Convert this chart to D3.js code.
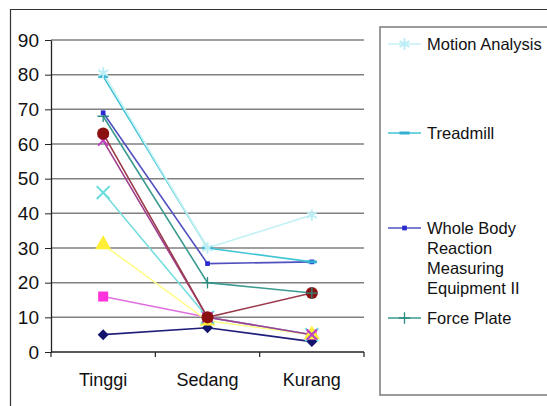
<!DOCTYPE html>
<html>
<head>
<meta charset="utf-8">
<script src="https://cdn.jsdelivr.net/npm/d3@7"></script>
<style>
body { margin: 0; background: #fff; }
svg { display: block; font-family: "Liberation Sans", Arial, sans-serif; }
</style>
</head>
<body>
<svg id="chart" width="547" height="406"></svg>
<script>
// categories and tick labels
var categories = ["Tinggi", "Sedang", "Kurang"];
var yTicks = [0, 10, 20, 30, 40, 50, 60, 70, 80, 90];

// series values
var navyDiamond   = [5, 7, 3];
var pinkSquare    = [16, 10, 5];
var yellowTri     = [31, 9, 5];
var cyanCross     = [46, 10, 5];
var purpleStar    = [61, 10, 5];
var maroonCircle  = [63, 10, 17];
var forcePlate    = [68, 20, 17];
var wholeBody     = [69, 25.5, 26];
var treadmill     = [79.5, 30, 26];
var motion        = [80.5, 30, 39.5];

// legend entries visible in the picture
var legendNames = ["Motion Analysis", "Treadmill", "Whole Body Reaction Measuring Equipment II", "Force Plate"];

var series = [
  { v: navyDiamond,  line: "#1f1f7a", mark: "#14146e", sym: "diamond", size: 60, sw: 2 },
  { v: pinkSquare,   line: "#e070e0", mark: "#ff33dd", sym: "square", size: 100, sw: 2 },
  { v: yellowTri,    line: "#ffff88", mark: "#ffee33", sym: "triangle", size: 110, sw: 2 },
  { v: cyanCross,    line: "#77dddd", mark: "#66dddd", sym: "times", size: 110, sw: 2 },
  { v: purpleStar,   line: "#a04090", mark: "#c040c0", sym: "times", size: 70, sw: 2 },
  { v: maroonCircle, line: "#9a3a4a", mark: "#8b1010", sym: "circle", size: 115, sw: 2 },
  { v: forcePlate,   line: "#3a9a8f", mark: "#2a8a80", sym: "plus", size: 45, sw: 1.3 },
  { v: wholeBody,    line: "#5050c0", mark: "#2a2ad0", sym: "square", size: 22, sw: 2 },
  { v: treadmill,    line: "#40c4d4", mark: "#30b0d0", sym: "dash", size: 0, sw: 3 },
  { v: motion,       line: "#c4f2f4", mark: "#bdeef6", sym: "asterisk", size: 90, sw: 2 }
];

var svg = d3.select("#chart");

// outer chart frame (runs off right and bottom)
svg.append("path").attr("d", "M10.5,420V9.5H560")
  .attr("fill", "none").attr("stroke", "#333").attr("stroke-width", 1.2);

var plotL = 51, plotR = 364, plotT = 40, plotB = 352;
var x = d3.scalePoint().domain(categories).range([plotL, plotR]).padding(0.5);
var y = d3.scaleLinear().domain([0, 90]).range([plotB, plotT]);

// gridlines
svg.append("g").selectAll("line").data(yTicks.slice(1)).join("line")
  .attr("x1", plotL).attr("x2", plotR)
  .attr("y1", function(d){ return y(d); }).attr("y2", function(d){ return y(d); })
  .attr("stroke", "#808080").attr("stroke-width", 1.5);

// y axis
var yAxis = svg.append("g").attr("transform", "translate(" + plotL + ",0)")
  .call(d3.axisLeft(y).tickValues(yTicks).tickSize(6).tickPadding(6).tickSizeOuter(0));
yAxis.select(".domain").attr("stroke", "#222").attr("stroke-width", 1.3);
yAxis.selectAll(".tick line").attr("stroke", "#222");
yAxis.selectAll("text").attr("font-size", 19).attr("fill", "#111")
  .attr("font-family", "Liberation Sans, Arial, sans-serif");

// x axis with ticks between categories
var edges = [plotL, plotL + (plotR - plotL) / 3, plotL + 2 * (plotR - plotL) / 3, plotR];
svg.append("line").attr("x1", plotL).attr("x2", plotR).attr("y1", plotB).attr("y2", plotB)
  .attr("stroke", "#222").attr("stroke-width", 1.3);
svg.append("g").selectAll("line").data(edges).join("line")
  .attr("x1", function(d){ return d; }).attr("x2", function(d){ return d; })
  .attr("y1", plotB).attr("y2", plotB + 5).attr("stroke", "#222").attr("stroke-width", 1.2);
svg.append("g").selectAll("text").data(categories).join("text")
  .attr("x", function(d){ return x(d); }).attr("y", 386)
  .attr("text-anchor", "middle").attr("font-size", 18).attr("fill", "#111")
  .text(function(d){ return d; });

var symTypes = {
  diamond: d3.symbolSquare, square: d3.symbolSquare, triangle: d3.symbolTriangle,
  circle: d3.symbolCircle, times: d3.symbolTimes, plus: d3.symbolPlus, asterisk: d3.symbolAsterisk
};
var strokeSyms = { times: 1, plus: 1, asterisk: 1, dash: 1 };

function drawMarker(g, s, cx, cy) {
  if (s.sym === "dash") {
    g.append("path").attr("d", "M" + (cx - 5) + "," + cy + "H" + (cx + 5))
      .attr("stroke", s.mark).attr("stroke-width", s.sw);
    return;
  }
  var p = g.append("path")
    .attr("d", d3.symbol().type(symTypes[s.sym]).size(s.size)())
    .attr("transform", "translate(" + cx + "," + cy + ")" + (s.sym === "diamond" ? " rotate(45)" : ""));
  if (strokeSyms[s.sym]) p.attr("fill", "none").attr("stroke", s.mark).attr("stroke-width", s.sw);
  else p.attr("fill", s.mark);
}

var line = d3.line().x(function(d, i){ return x(categories[i]); }).y(function(d){ return y(d); });

// lines then markers, last series on top
series.forEach(function(s) {
  svg.append("path").datum(s.v).attr("d", line)
    .attr("fill", "none").attr("stroke", s.line).attr("stroke-width", 1.6);
});
series.forEach(function(s) {
  var g = svg.append("g");
  s.v.forEach(function(d, i) { drawMarker(g, s, x(categories[i]), y(d)); });
});

// legend
svg.append("rect").attr("x", 380).attr("y", 27).attr("width", 200).attr("height", 368)
  .attr("fill", "#fff").attr("stroke", "#7a7a7a").attr("stroke-width", 1.5);

var legendRows = [
  { s: series[9], y: 44, lines: ["Motion Analysis"] },
  { s: series[8], y: 133, lines: ["Treadmill"] },
  { s: series[7], y: 228, lines: ["Whole Body", "Reaction", "Measuring", "Equipment II"] },
  { s: series[6], y: 318, lines: ["Force Plate"] }
];
legendRows.forEach(function(r, k) {
  var g = svg.append("g");
  g.append("line").attr("x1", 388).attr("x2", 421).attr("y1", r.y).attr("y2", r.y)
    .attr("stroke", r.s.line).attr("stroke-width", 1.6);
  drawMarker(g, r.s, 404.5, r.y);
  var t = g.append("text").attr("x", 427).attr("y", r.y + 6).attr("font-size", 16.5).attr("fill", "#111");
  t.selectAll("tspan").data(r.lines).join("tspan")
    .attr("x", 427).attr("dy", function(d, i){ return i ? 20 : 0; })
    .text(function(d){ return d; });
  t.attr("data-name", legendNames[k]);
});
</script>
</body>
</html>
